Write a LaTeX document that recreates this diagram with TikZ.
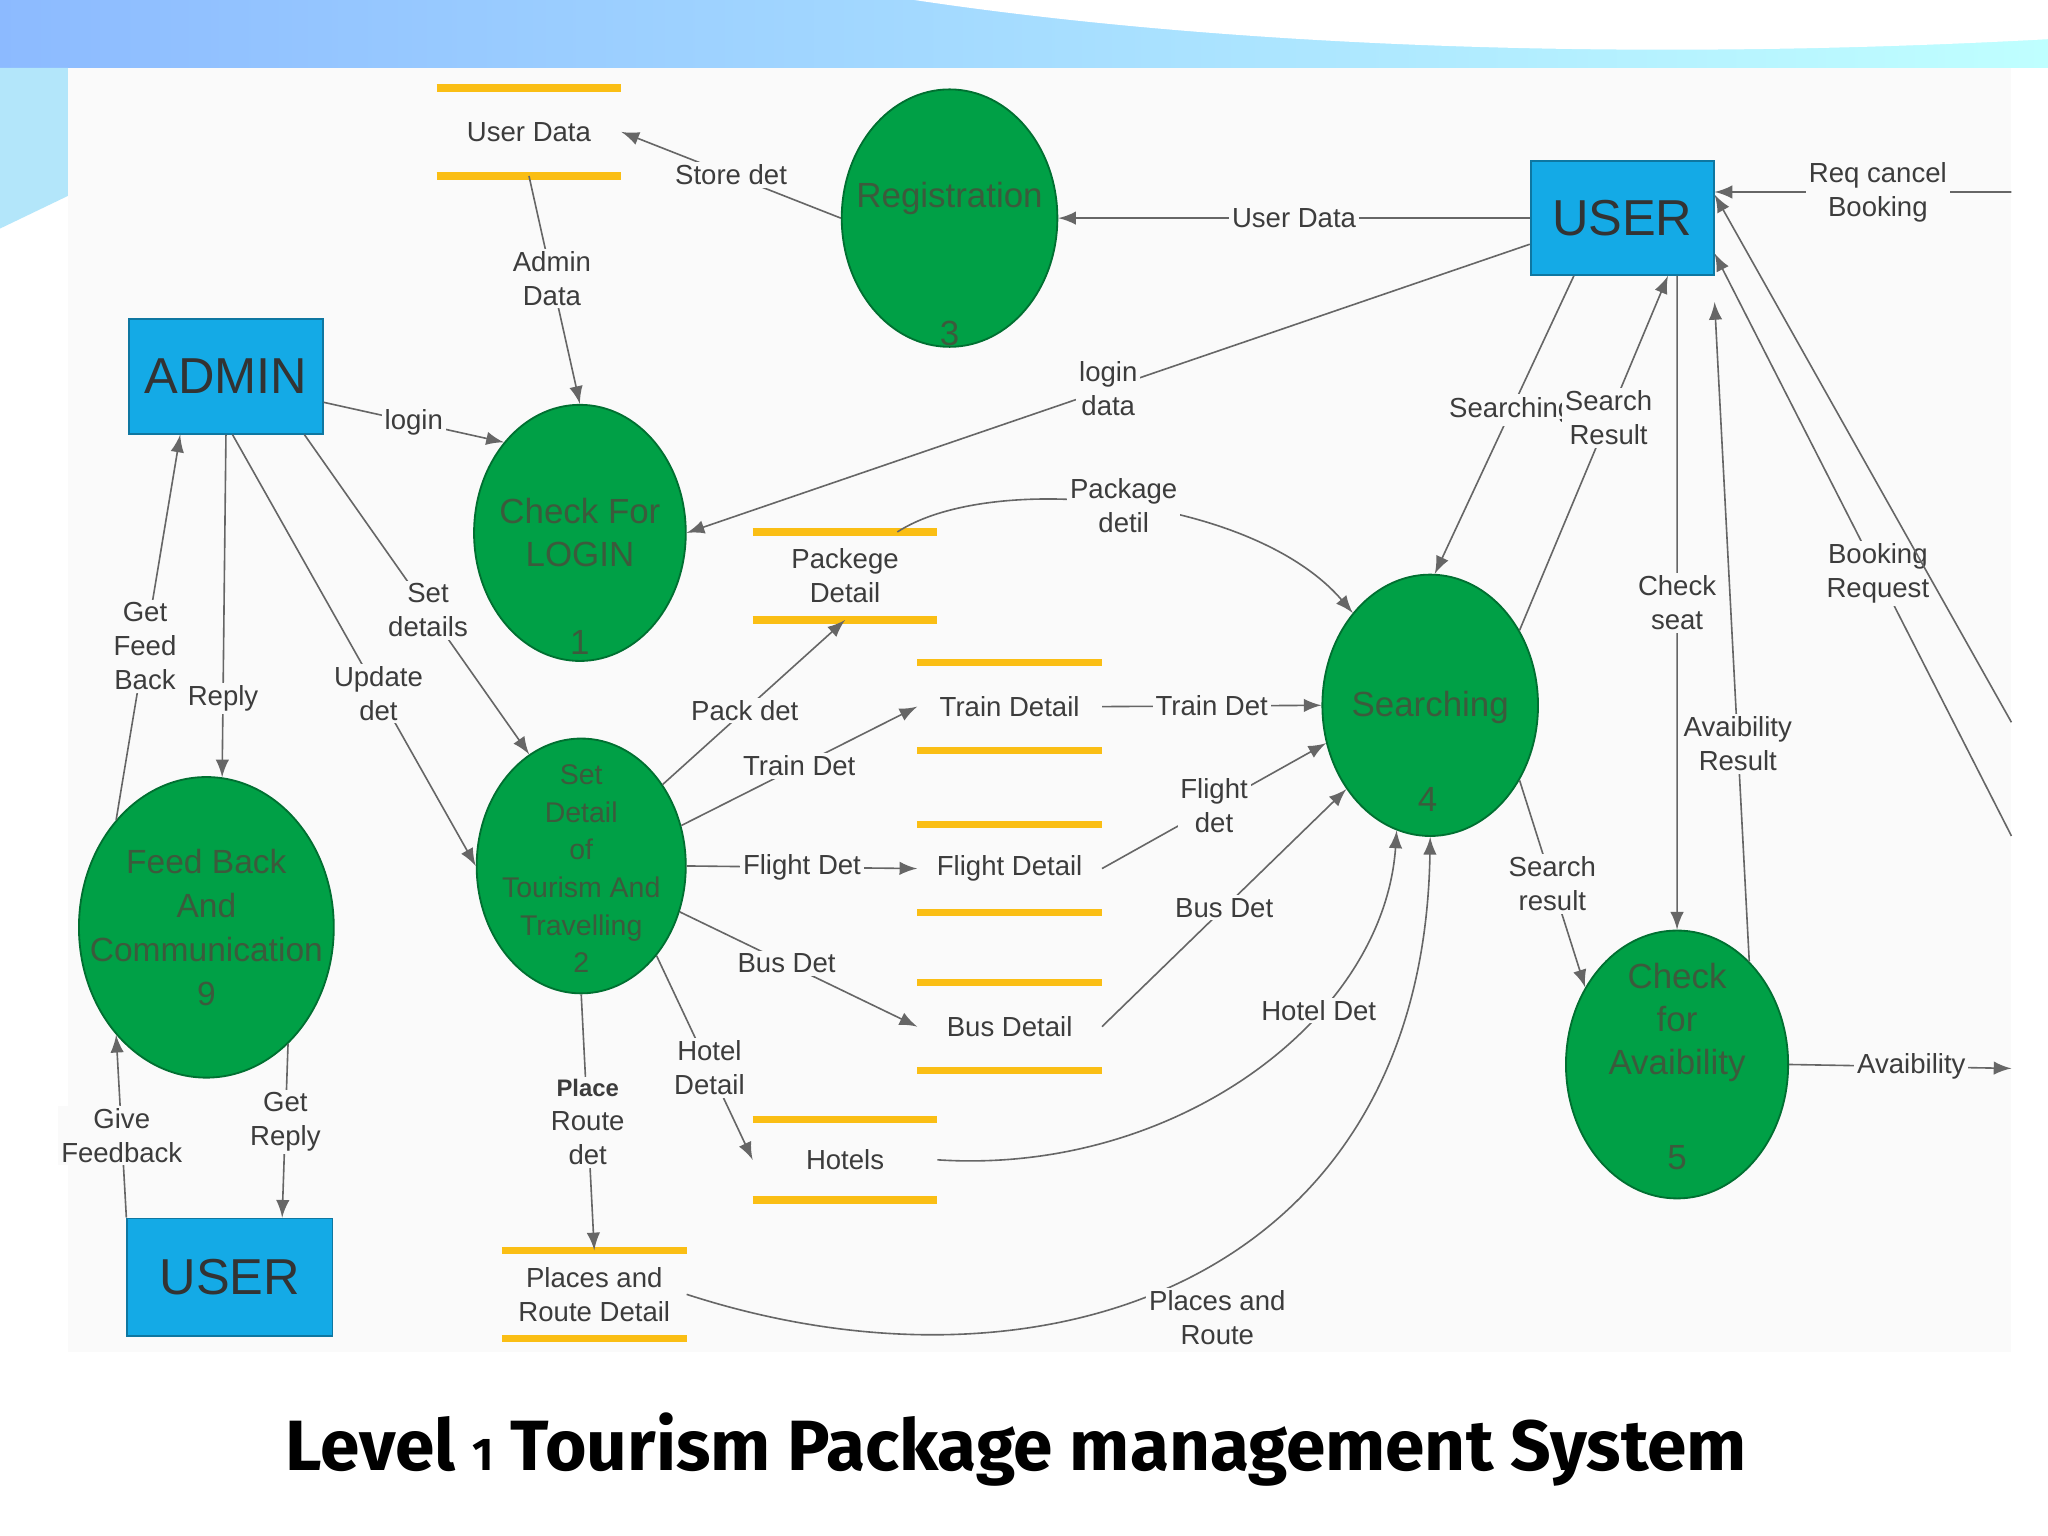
\documentclass[tikz,border=0pt]{standalone}
\usepackage{fontspec}
\setmainfont{Liberation Sans}
\newfontfamily\titlefont{Fira Sans}
\usetikzlibrary{positioning}
\usetikzlibrary{calc}
\usetikzlibrary{shapes.geometric}
\definecolor{procgreen}{RGB}{0,160,70}
\definecolor{entblue}{RGB}{20,170,230}
\definecolor{storeyel}{RGB}{250,190,20}
\definecolor{txtgray}{RGB}{60,60,60}
\definecolor{proctxt}{RGB}{60,90,60}
\tikzset{
  proc/.style={ellipse, fill=procgreen, draw=procgreen!70!black, inner sep=0pt},
  ptxt/.style={text=proctxt, font=\fontsize{7.6}{9.4}\selectfont, align=center},
  ent/.style={rectangle, fill=entblue, draw=entblue!70!black, font=\fontsize{11}{12}\selectfont, text=black!80},
  flow/.style={->, >=latex, draw=gray!80!black, line width=0.35pt},
  lbl/.style={fill=black!2, inner sep=0.6pt, font=\fontsize{6}{7.4}\selectfont, text=txtgray, align=center},
  store/.style={font=\fontsize{6}{7.4}\selectfont, text=txtgray, align=center, minimum width=1.4cm, minimum height=0.66cm}
}
\newcommand{\storelines}[1]{%
  \draw[storeyel, line width=1.6pt] (#1.north west) -- (#1.north east);
  \draw[storeyel, line width=1.6pt] (#1.south west) -- (#1.south east);}
\begin{document}
\begin{tikzpicture}[x=0.01cm, y=-0.01cm]
\useasboundingbox (0,0) rectangle (1568,1176);
% slide background
\fill[white] (0,0) rectangle (1568,1176);
\shade[left color=cyan!40!blue!45, right color=cyan!25] (0,0) rectangle (1568,52);
\fill[white] (700,0) .. controls (900,30) and (1200,50) .. (1568,30) -- (1568,0) -- cycle;
\fill[cyan!30] (0,52) -- (52,52) -- (52,150) -- (0,175) -- cycle;
\fill[black!2] (52,52) rectangle (1540,1035);

% stores
\node[store] (ud) at (405,101) {User Data};
\node[store] (pd) at (647,441) {Packege\\Detail};
\node[store] (td) at (773,541) {Train Detail};
\node[store] (fd) at (773,665) {Flight Detail};
\node[store] (bd) at (773,786) {Bus Detail};
\node[store, minimum height=0.6cm] (ht) at (647,888) {Hotels};
\node[store] (prd) at (455,991) {Places and\\Route Detail};
\foreach \s in {ud,pd,td,fd,bd,ht,prd} {\storelines{\s}}

% processes
\node[proc, minimum width=1.65cm, minimum height=1.97cm] (reg) at (727,167) {};
\node[ptxt] at (727,152) {Registration};
\node[ptxt] at (727,255) {3};
\node[proc, minimum width=1.62cm, minimum height=1.96cm] (login) at (444,408) {};
\node[ptxt] at (444,408) {Check For\\LOGIN};
\node[ptxt] at (444,492) {1};
\node[proc, minimum width=1.65cm, minimum height=2cm] (srch) at (1095,540) {};
\node[ptxt] at (1095,542) {Searching};
\node[ptxt] at (1093,612) {4};
\node[proc, minimum width=1.6cm, minimum height=1.95cm] (set) at (445,663) {};
\node[ptxt, font=\fontsize{6.2}{8.2}\selectfont] at (445,665) {Set\\Detail\\of\\Tourism And\\Travelling\\2};
\node[proc, minimum width=1.95cm, minimum height=2.3cm] (fb) at (158,710) {};
\node[ptxt, font=\fontsize{7.3}{9.6}\selectfont] at (158,710) {Feed Back\\And\\Communication\\9};
\node[proc, minimum width=1.7cm, minimum height=2.05cm] (avl) at (1284,815) {};
\node[ptxt] at (1284,783) {Check\\for\\Avaibility};
\node[ptxt] at (1284,886) {5};

% entities
\node[ent, minimum width=1.4cm, minimum height=0.87cm] (user) at (1242,167) {USER};
\node[ent, minimum width=1.4cm, minimum height=0.88cm] (admin) at (173,288) {ADMIN};
\node[ent, minimum width=1.57cm, minimum height=0.9cm] (user2) at (176,978) {USER};

% free ends
\coordinate (e1) at (1540,147);
\coordinate (e2) at (1540,553);
\coordinate (e3) at (1540,640);
\coordinate (e4) at (1540,818);

% flows
\draw[flow] (reg.west) -- node[lbl]{Store det} (ud.east);
\draw[flow] (ud.south) -- node[lbl, pos=0.45]{Admin\\Data} (login.north);
\draw[flow] (user.west) -- node[lbl]{User Data} (reg.east);
\draw[flow] ([yshift=-0.2cm]user.west) -- node[lbl, pos=0.5]{login\\data} (login.east);
\draw[flow] ([yshift=-0.2cm]admin.east) -- node[lbl]{login} (login.130);
\draw[flow] ([xshift=0.6cm]admin.south) -- node[lbl, pos=0.55]{Set\\details} (set.115);
\draw[flow] ([xshift=0.05cm]admin.south) -- node[lbl, pos=0.6]{Update\\det} (set.180);
\draw[flow] (admin.south) -- node[lbl, pos=0.77]{Reply} (fb.84);
\draw[flow] (fb.130) -- node[lbl, pos=0.45]{Get\\Feed\\Back} ([xshift=-0.35cm]admin.south);
\draw[flow] (set.45) -- node[lbl, pos=0.45]{Pack det} (pd.south);
\draw[flow] (set.22) -- node[lbl]{Train Det} (td.west);
\draw[flow] (set.0) -- node[lbl]{Flight Det} (fd.west);
\draw[flow] (set.-25) -- node[lbl, pos=0.45]{Bus Det} (bd.west);
\draw[flow] (set.-50) -- node[lbl, pos=0.55]{Hotel\\Detail} (ht.west);
\draw[flow] (set.south) -- node[lbl, pos=0.5]{{\fontsize{5.2}{6}\selectfont\bfseries Place}\\Route\\det} (prd.north);
\draw[flow] ([xshift=0.4cm]pd.north) .. controls (760,360) and (960,380) .. node[lbl, pos=0.5]{Package\\detil} (srch.130);
\draw[flow] (td.east) -- node[lbl]{Train Det} (srch.west);
\draw[flow] (fd.east) -- node[lbl, pos=0.5]{Flight\\det} (srch.200);
\draw[flow] (bd.east) -- node[lbl, pos=0.5]{Bus Det} (srch.225);
\draw[flow] (ht.east) .. controls (900,900) and (1060,780) .. node[lbl, pos=0.65]{Hotel Det} (srch.255);
\draw[flow] (prd.east) .. controls (800,1080) and (1090,980) .. (srch.270);
\node[lbl] (prlbl) at (932,1009) {Places and\\Route};
\draw[flow] ([xshift=-0.37cm]user.south) -- node[lbl, pos=0.45]{Searching} (srch.88);
\draw[flow] (srch.40) -- node[lbl, pos=0.6]{Search\\Result} ([xshift=0.35cm]user.south);
\draw[flow] (srch.-40) -- node[lbl, pos=0.5]{Search\\result} (avl.140);
\draw[flow] ([xshift=0.42cm]user.south) -- node[lbl, pos=0.5]{Check\\seat} (avl.north);
\draw[flow] (avl.55) -- node[lbl, pos=0.33]{Avaibility\\Result} ([yshift=-0.2cm]user.south east);
\draw[flow] (e1) -- node[lbl, pos=0.45]{Req cancel\\Booking} ([yshift=0.2cm]user.east);
\draw[flow] (e3) -- node[lbl, pos=0.45]{Booking\\Request} ([yshift=-0.27cm]user.east);
\draw[flow] (e2) -- ([yshift=0.18cm]user.east);
\draw[flow] (avl.east) -- node[lbl, pos=0.55]{Avaibility} (e4);
\draw[flow] (user2.north west) -- node[lbl, pos=0.45]{Give\\Feedback} (fb.230);
\draw[flow] (fb.-55) -- node[lbl, pos=0.45]{Get\\Reply} ([xshift=0.4cm]user2.north);

% title
\node[font=\titlefont\bfseries\fontsize{15.5}{17}\selectfont] (title) at (778,1110) {Level {\fontsize{10}{11}\selectfont 1} Tourism Package management System};
\end{tikzpicture}
\end{document}
